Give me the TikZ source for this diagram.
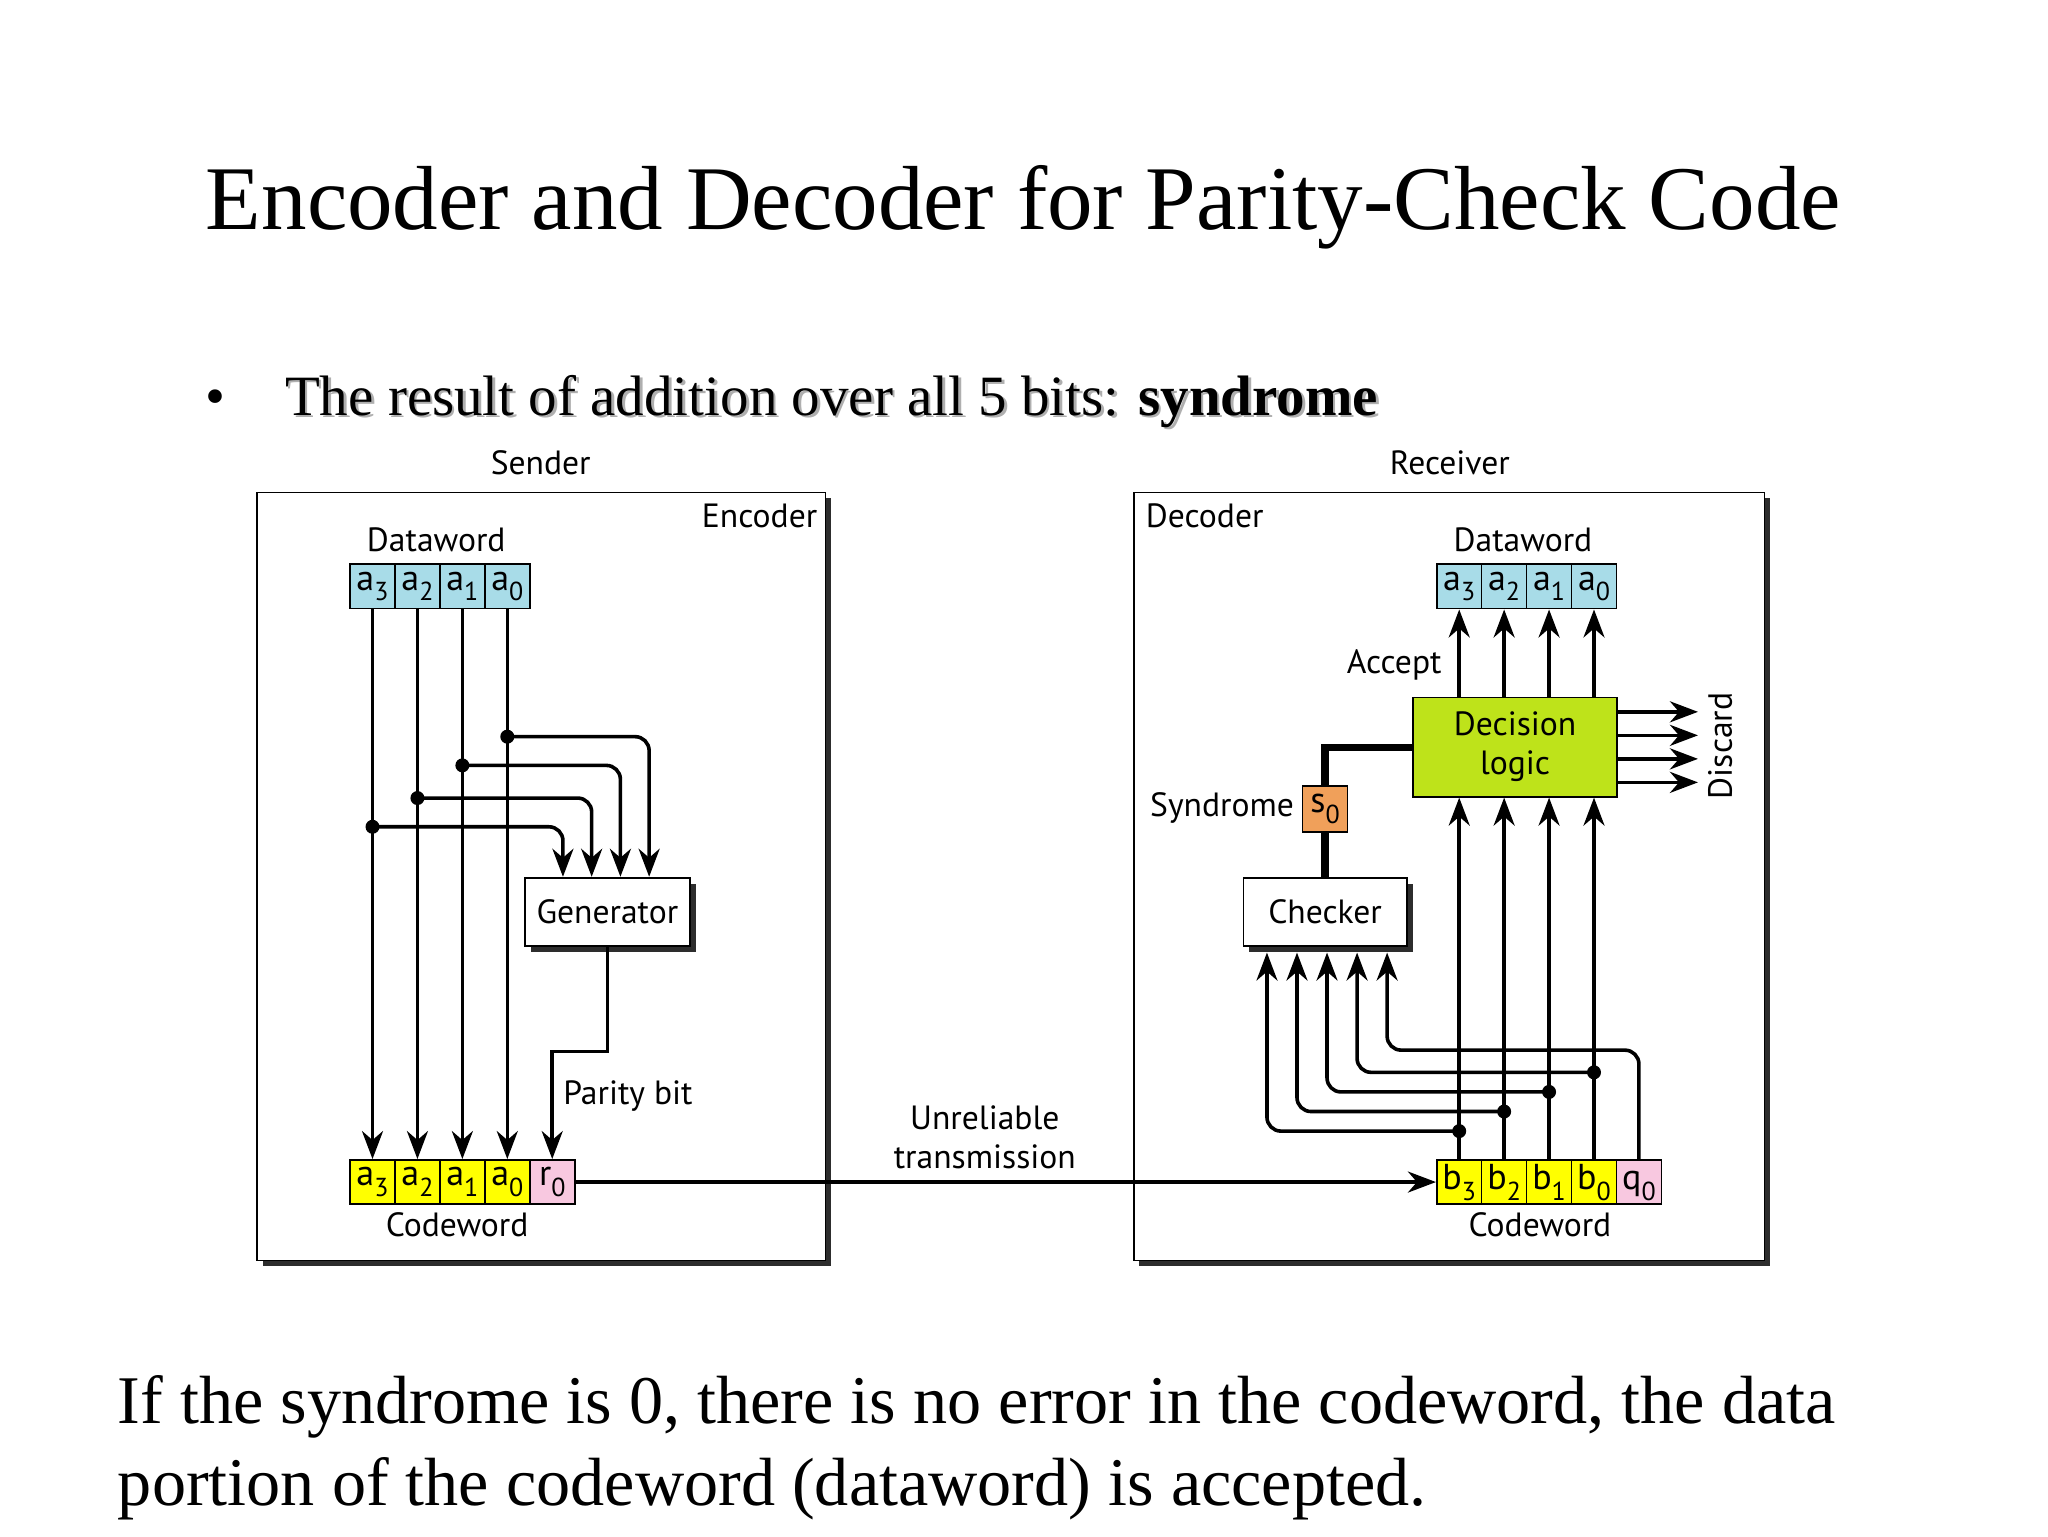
\documentclass[tikz,border=0pt]{standalone}
\usepackage{fontspec}
\usepackage{graphicx}
\setmainfont{Liberation Serif}
\newfontfamily\dfont{PT Sans}
\usetikzlibrary{arrows.meta,shadows}

\definecolor{dwblue}{RGB}{168,220,232}
\definecolor{cwyellow}{RGB}{255,255,0}
\definecolor{cwpink}{RGB}{248,200,224}
\definecolor{synorange}{RGB}{240,160,90}
\definecolor{dlgreen}{RGB}{190,227,26}
\definecolor{shadowgray}{RGB}{45,45,45}
\definecolor{textshadow}{RGB}{175,175,175}

\newcommand\bitlbl[2]{#1\raisebox{-0.3em}{\fontsize{13pt}{13pt}\selectfont #2}}

\begin{document}
\begin{tikzpicture}[x=0.65306pt,y=-0.65306pt,
  lbl/.style={font=\dfont\fontsize{16.8pt}{19.5pt}\selectfont, inner sep=0pt},
  cellbox/.style={draw, line width=0.8pt, minimum width=22.47pt, minimum height=22.2pt,
    inner sep=0pt, font=\dfont\fontsize{18pt}{18pt}\selectfont},
  acell/.style={cellbox, text height=9pt, text depth=5.4pt},
  framebox/.style={draw, line width=0.9pt, fill=white,
    drop shadow={shadow xshift=2.8pt, shadow yshift=-2.8pt, fill=shadowgray, opacity=1}},
  procbox/.style={draw, line width=0.9pt, fill=white, align=center, inner sep=0pt,
    font=\dfont\fontsize{16.8pt}{19.5pt}\selectfont,
    drop shadow={shadow xshift=3pt, shadow yshift=-3pt, fill=shadowgray, opacity=1}},
  conn/.style={line width=1.8pt},
  arr/.style={conn, -{Stealth[length=14pt,width=10.5pt,inset=4.5pt]}},
  thickconn/.style={line width=3.6pt},
  dot/.style={circle, fill=black, inner sep=0pt, minimum size=7pt},
]
\useasboundingbox (0,0) rectangle (1568,1176);
\fill[white] (0,0) rectangle (1568,1176);

% ---- slide texts ----
\node[anchor=base, inner sep=0pt, font=\fontsize{45.5pt}{50pt}\selectfont] (title) at (783.5,176)
  {Encoder and Decoder for Parity-Check Code};
\node[anchor=base, inner sep=0pt, font=\fontsize{28.5pt}{34pt}\selectfont] (bullet) at (165,318) {•};
\node[anchor=base west, inner sep=0pt, text=textshadow, font=\fontsize{28.5pt}{34pt}\selectfont] (bulletshadow) at (220,320)
  {The result of addition over all 5 bits: \textbf{syndrome}};
\node[anchor=base west, inner sep=0pt, font=\fontsize{28.5pt}{34pt}\selectfont] (bullettext) at (218,318)
  {The result of addition over all 5 bits: \textbf{syndrome}};
\node[anchor=base west, inner sep=0pt, font=\fontsize{34.1pt}{40pt}\selectfont] (bottom1) at (90,1090)
  {If the syndrome is 0, there is no error in the codeword, the data};
\node[anchor=base west, inner sep=0pt, font=\fontsize{34.1pt}{40pt}\selectfont] (bottom2) at (90,1153)
  {portion of the codeword (dataword) is accepted.};

% ---- frames ----
\node[framebox, minimum width=284.1pt, minimum height=384pt] (sender) at (414.5,671) {};
\node[framebox, minimum width=315.4pt, minimum height=384pt] (receiver) at (1109.5,671) {};

\node[lbl, anchor=base] (senderlbl) at (414,363) {Sender};
\node[lbl, anchor=base] (receiverlbl) at (1110,363) {Receiver};
\node[lbl, anchor=base east] (enclbl) at (626,404) {Encoder};
\node[lbl, anchor=base west] (declbl) at (877,404) {Decoder};

% ---- sender ----
\node[lbl, anchor=base] (sdwlbl) at (334,422.5) {Dataword};
\node[acell, fill=dwblue] (sd3) at (285.2,449) {\bitlbl{a}{3}};
\node[acell, fill=dwblue] (sd2) at (319.6,449) {\bitlbl{a}{2}};
\node[acell, fill=dwblue] (sd1) at (354.0,449) {\bitlbl{a}{1}};
\node[acell, fill=dwblue] (sd0) at (388.4,449) {\bitlbl{a}{0}};

\node[acell, fill=cwyellow] (sc3) at (285.2,905) {\bitlbl{a}{3}};
\node[acell, fill=cwyellow] (sc2) at (319.6,905) {\bitlbl{a}{2}};
\node[acell, fill=cwyellow] (sc1) at (354.0,905) {\bitlbl{a}{1}};
\node[acell, fill=cwyellow] (sc0) at (388.4,905) {\bitlbl{a}{0}};
\node[acell, fill=cwpink]   (sr0) at (422.8,905) {\bitlbl{r}{0}};
\node[lbl, anchor=base] (scwlbl) at (350,947) {Codeword};

\node[procbox, minimum width=82.3pt, minimum height=34pt] (gen) at (465,698) {Generator};

\foreach \i in {3,2,1,0} { \draw[arr] (sd\i.south) -- (sc\i.north); }

\coordinate (j0) at (388.4,564);
\coordinate (j1) at (354.0,586);
\coordinate (j2) at (319.6,611);
\coordinate (j3) at (285.2,633);
\coordinate (g0) at (497,698);
\coordinate (g1) at (475,698);
\coordinate (g2) at (453,698);
\coordinate (g3) at (431,698);
\foreach \i in {0,1,2,3} {
  \draw[arr, rounded corners=7pt] (j\i) -- (j\i -| g\i) -- (gen.north -| g\i);
  \node[dot] (sdot\i) at (j\i) {};
}
\coordinate (pturn) at (465,805);
\draw[arr] (gen.south) -- (pturn) -| (sr0.north);
\node[lbl, anchor=base west] (paritylbl) at (431,846) {Parity bit};

% ---- receiver codeword and transmission ----
\node[acell, fill=cwyellow, text height=12.6pt] (rb3) at (1117.2,905) {\bitlbl{b}{3}};
\node[acell, fill=cwyellow, text height=12.6pt] (rb2) at (1151.6,905) {\bitlbl{b}{2}};
\node[acell, fill=cwyellow, text height=12.6pt] (rb1) at (1186.0,905) {\bitlbl{b}{1}};
\node[acell, fill=cwyellow, text height=12.6pt] (rb0) at (1220.4,905) {\bitlbl{b}{0}};
\node[acell, fill=cwpink, text height=12.6pt]   (rq0) at (1254.8,905) {\bitlbl{q}{0}};
\node[lbl, anchor=base] (rcwlbl) at (1179,947) {Codeword};

\draw[arr] (sr0.east) -- (rb3.west);
\node[lbl, align=center] (unrel) at (754,871) {Unreliable\\transmission};

% ---- receiver ----
\node[lbl, anchor=base] (rdwlbl) at (1166,422.5) {Dataword};
\node[acell, fill=dwblue] (rd3) at (1117.2,449) {\bitlbl{a}{3}};
\node[acell, fill=dwblue] (rd2) at (1151.6,449) {\bitlbl{a}{2}};
\node[acell, fill=dwblue] (rd1) at (1186.0,449) {\bitlbl{a}{1}};
\node[acell, fill=dwblue] (rd0) at (1220.4,449) {\bitlbl{a}{0}};

\node[draw, line width=0.9pt, fill=dlgreen, align=center, inner sep=0pt,
  font=\dfont\fontsize{16.8pt}{19.5pt}\selectfont,
  minimum width=101.9pt, minimum height=49.6pt] (dl) at (1160,572) {Decision\\logic};

\node[procbox, minimum width=81.6pt, minimum height=34pt] (chk) at (1014.5,698) {Checker};
\node[acell, fill=synorange, minimum height=22.9pt] (s0) at (1014.5,619.5) {\bitlbl{s}{0}};

\draw[thickconn] (dl.west) -| (s0.north);
\draw[thickconn] (s0.south) -- (chk.north);

\node[lbl, anchor=base east] (synlbl) at (991,625) {Syndrome};
\node[lbl, anchor=base east] (acclbl) at (1104,516) {Accept};

\foreach \i in {3,2,1,0} {
  \draw[arr] (dl.north -| rd\i) -- (rd\i.south);
  \draw[arr] (rb\i.north) -- (dl.south -| rb\i);
}

% discard
\coordinate (dsc1) at (1300,545);
\coordinate (dsc2) at (1300,563);
\coordinate (dsc3) at (1300,581);
\coordinate (dsc4) at (1300,599);
\foreach \k in {1,2,3,4} { \draw[arr] (dsc\k -| dl.east) -- (dsc\k); }
\node[lbl, rotate=90] (disclbl) at (1317,571) {Discard};

% checker inputs
\coordinate (k3) at (1117.2,866);
\coordinate (k2) at (1151.6,851);
\coordinate (k1) at (1186.0,836);
\coordinate (k0) at (1220.4,821);
\coordinate (c3) at (970,700);
\coordinate (c2) at (993,700);
\coordinate (c1) at (1016,700);
\coordinate (c0) at (1039,700);
\coordinate (cq) at (1062,700);
\coordinate (qturn) at (1254.8,804);
\foreach \i in {3,2,1,0} {
  \draw[arr, rounded corners=7pt] (k\i) -- (k\i -| c\i) -- ([yshift=-3pt]chk.south -| c\i);
  \node[dot] (rdot\i) at (k\i) {};
}
\draw[arr, rounded corners=7pt] (rq0.north) -- (qturn) -- (qturn -| cq) -- ([yshift=-3pt]chk.south -| cq);

\end{tikzpicture}
\end{document}
